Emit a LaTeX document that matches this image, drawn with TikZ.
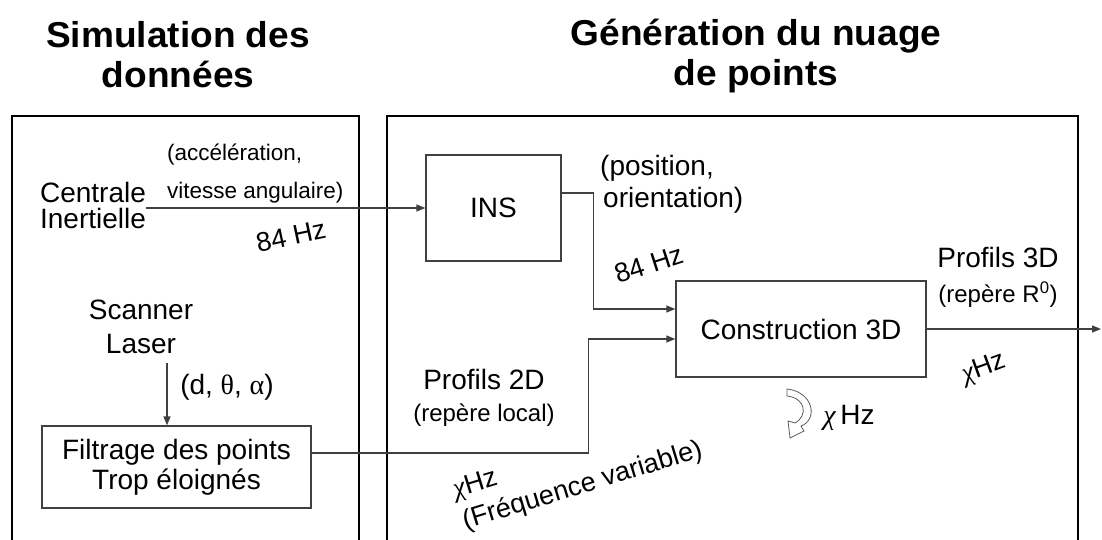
\documentclass[tikz,border=0pt]{standalone}
\usepackage{fontspec}
\setmainfont{Liberation Sans}
\newfontfamily\grkfont{Liberation Serif}
\newfontfamily\ttlfont[FakeStretch=1.03]{Liberation Sans}
\usetikzlibrary{arrows.meta}
\definecolor{ln}{HTML}{404040}
\begin{document}
\begin{tikzpicture}[x=1pt,y=-1pt,
  frame/.style={line width=2.4pt,black},
  blk/.style={draw=ln,line width=1.3pt,inner sep=0pt,font=\fontsize{28}{30}\selectfont},
  conn/.style={ln,line width=1.3pt,-{Triangle[length=9pt,width=7pt]}},
  lbl/.style={inner sep=0pt,font=\fontsize{28}{30}\selectfont},
  ttl/.style={inner sep=0pt,align=center,font=\ttlfont\fontsize{36}{40}\selectfont\bfseries},
  hz/.style={inner sep=0pt,font=\fontsize{27}{30}\selectfont}
]
\useasboundingbox (0,0) rectangle (1102,540);
\fill[white] (0,0) rectangle (1102,540);

% titles
\node[ttl] (t1) at (178,55) {Simulation des\\données};
\node[ttl] (t2) at (756,56) {Génération du nuage\\de points};

% frames
\draw[frame] (12,548) -- (12,116) -- (359,116) -- (359,548);
\draw[frame] (387,548) -- (387,116) -- (1078,116) -- (1078,548);

% left panel
\node[lbl,align=center,font=\fontsize{28}{26}\selectfont] (ci) at (93,205) {Centrale\\Inertielle};
\node[inner sep=0pt,align=left,anchor=west,font=\fontsize{22.5}{38}\selectfont] (acc) at (167,174) {(accélération,\\vitesse angulaire)};
\node[hz,rotate=12] (f1) at (291,236) {84 Hz};
\node[lbl,align=center,font=\fontsize{28}{34}\selectfont] (scan) at (141,327) {Scanner\\Laser};
\node[lbl] (dta) at (227,387) {(d, {\grkfont θ}, {\grkfont α})};
\node[blk,minimum width=269pt,minimum height=82pt,align=center] (filt) at (176.5,467) {Filtrage des points\\Trop éloignés};

% right panel
\node[blk,minimum width=135pt,minimum height=106pt] (ins) at (493.5,208) {INS};
\node[lbl,align=left,anchor=west,font=\fontsize{28}{32}\selectfont] (pos) at (600,184) {(position,\\\hspace{3pt}orientation)};
\node[hz,rotate=18] (f2) at (649,264) {84 Hz};
\node[blk,minimum width=250pt,minimum height=96pt] (cons) at (801,329) {Construction 3D};
\node[lbl,align=center,font=\fontsize{28}{35}\selectfont] (p3) at (998,277) {Profils 3D\\{\fontsize{24}{35}\selectfont(repère R\textsuperscript{0})}};
\node[hz,rotate=20] (f3) at (984,369) {{\grkfont\itshape χ}Hz};
\node[lbl,align=center,font=\fontsize{28}{32}\selectfont] (p2) at (484,398) {Profils 2D\\{\fontsize{24}{32}\selectfont(repère local)}};
\node[lbl] (chi) at (849,418) {{\grkfont\itshape χ}\,Hz};
\node[hz,align=left,rotate=17,font=\fontsize{27}{33}\selectfont] (fv) at (578,471) {{\grkfont\itshape χ}Hz\\(Fréquence variable)};

% curved loop arrow
\draw[ln!85,line width=0.8pt,fill=white] (787,389) .. controls (814,392) and (818,420) .. (801,426)
  -- (804,431) -- (790,438) -- (788,421) -- (795,423)
  .. controls (808,416) and (806,398) .. (787,396) -- cycle;

% connectors
\coordinate (sl) at (167,363);
\coordinate (out) at (1101,329);
\draw[conn] (ci.east |- ins.west) -- (ins.west);
\draw[conn] ([yshift=15pt]ins.east) -- ++(32,0) |- ([yshift=20pt]cons.west);
\draw[conn] ([yshift=14pt]filt.east) -- ++(277,0) |- ([yshift=-10pt]cons.west);
\draw[conn] (sl) -- (sl |- filt.north);
\draw[conn] (cons.east) -- (out);
\end{tikzpicture}
\end{document}
